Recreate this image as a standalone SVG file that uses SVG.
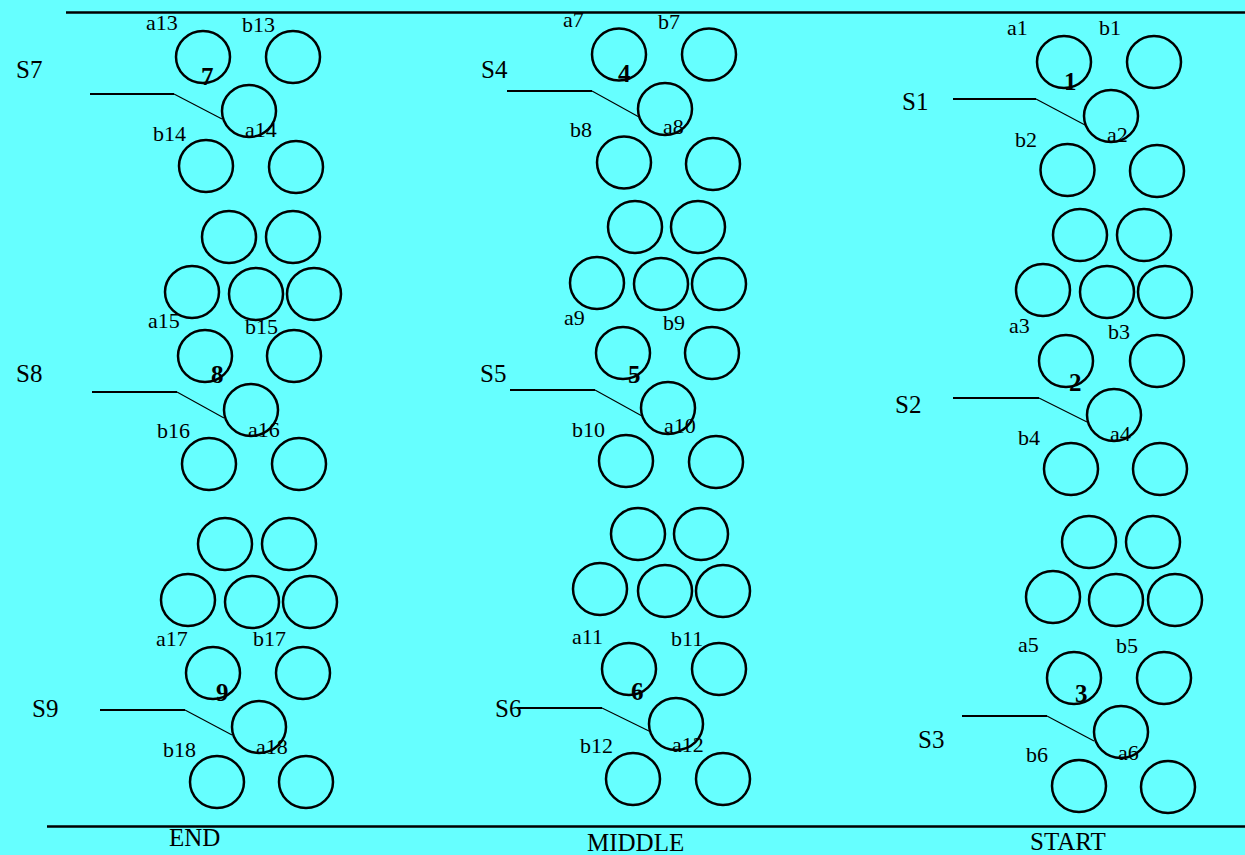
<svg xmlns="http://www.w3.org/2000/svg" width="1245" height="855" viewBox="0 0 1245 855">
<style>
.c{fill:none;stroke:#000;stroke-width:2.5}
.rail{stroke:#000;stroke-width:2.5}
.wh{stroke:#000;stroke-width:2.2;fill:none}
.wd{stroke:#000;stroke-width:1.1;fill:none}
.lb{font-family:"Liberation Serif","Times New Roman",serif;font-size:22px;fill:#000}
.sl{font-family:"Liberation Serif","Times New Roman",serif;font-size:25px;fill:#000}
.nm{font-family:"Liberation Serif","Times New Roman",serif;font-size:25px;font-weight:bold;fill:#000}
</style>
<rect x="0" y="0" width="1245" height="855" fill="#66FFFF"/>
<g id="rails">
<line class="rail" x1="66" y1="12.5" x2="1245" y2="12.5"/>
<line class="rail" x1="47" y1="826.5" x2="1245" y2="826.5"/>
</g>
<g id="connectors">
<polyline class="wh" points="90,94 174,94"/><line class="wd" x1="174" y1="94" x2="222" y2="119"/>
<polyline class="wh" points="92,392 177,392"/><line class="wd" x1="177" y1="392" x2="224" y2="418"/>
<polyline class="wh" points="100,710 185,710"/><line class="wd" x1="185" y1="710" x2="232" y2="735"/>
<polyline class="wh" points="507,91 592,91"/><line class="wd" x1="592" y1="91" x2="639" y2="117"/>
<polyline class="wh" points="510,390 595,390"/><line class="wd" x1="595" y1="390" x2="642" y2="416"/>
<polyline class="wh" points="517,708 602,708"/><line class="wd" x1="602" y1="708" x2="651" y2="732"/>
<polyline class="wh" points="953,99 1036,99"/><line class="wd" x1="1036" y1="99" x2="1085" y2="125"/>
<polyline class="wh" points="953,398 1039,398"/><line class="wd" x1="1039" y1="398" x2="1087" y2="422"/>
<polyline class="wh" points="962,716 1047,716"/><line class="wd" x1="1047" y1="716" x2="1094" y2="741"/>
</g>
<g id="col-end">
<g id="station-7">
<ellipse class="c" cx="203" cy="57" rx="27" ry="26"/><ellipse class="c" cx="293" cy="57" rx="27" ry="26"/>
<ellipse class="c" cx="249" cy="111" rx="27" ry="26"/>
<ellipse class="c" cx="206" cy="166" rx="27" ry="26"/><ellipse class="c" cx="296" cy="167" rx="27" ry="26"/>
<text class="lb" x="146" y="30">a13</text><text class="lb" x="242" y="32">b13</text>
<text class="sl" x="16" y="78">S7</text><text class="nm" x="201" y="85">7</text>
<text class="lb" x="153" y="141">b14</text><text class="lb" x="245" y="137">a14</text>
</g>
<g id="pack-end-1">
<ellipse class="c" cx="229" cy="237" rx="27" ry="26"/><ellipse class="c" cx="293" cy="237" rx="27" ry="26"/>
<ellipse class="c" cx="192" cy="292" rx="27" ry="26"/><ellipse class="c" cx="256" cy="294" rx="27" ry="26"/><ellipse class="c" cx="314" cy="294" rx="27" ry="26"/>
</g>
<g id="station-8">
<ellipse class="c" cx="205" cy="356" rx="27" ry="26"/><ellipse class="c" cx="294" cy="356" rx="27" ry="26"/>
<ellipse class="c" cx="251" cy="410" rx="27" ry="26"/>
<ellipse class="c" cx="209" cy="464" rx="27" ry="26"/><ellipse class="c" cx="299" cy="464" rx="27" ry="26"/>
<text class="lb" x="148" y="328">a15</text><text class="lb" x="245" y="334">b15</text>
<text class="sl" x="16" y="382">S8</text><text class="nm" x="211" y="383">8</text>
<text class="lb" x="157" y="438">b16</text><text class="lb" x="248" y="437">a16</text>
</g>
<g id="pack-end-2">
<ellipse class="c" cx="225" cy="544" rx="27" ry="26"/><ellipse class="c" cx="289" cy="544" rx="27" ry="26"/>
<ellipse class="c" cx="188" cy="600" rx="27" ry="26"/><ellipse class="c" cx="252" cy="602" rx="27" ry="26"/><ellipse class="c" cx="310" cy="602" rx="27" ry="26"/>
</g>
<g id="station-9">
<ellipse class="c" cx="213" cy="673" rx="27" ry="26"/><ellipse class="c" cx="303" cy="673" rx="27" ry="26"/>
<ellipse class="c" cx="259" cy="727" rx="27" ry="26"/>
<ellipse class="c" cx="217" cy="782" rx="27" ry="26"/><ellipse class="c" cx="306" cy="782" rx="27" ry="26"/>
<text class="lb" x="156" y="646">a17</text><text class="lb" x="253" y="646">b17</text>
<text class="sl" x="32" y="717">S9</text><text class="nm" x="216" y="701">9</text>
<text class="lb" x="163" y="757">b18</text><text class="lb" x="256" y="754">a18</text>
</g>
<text class="sl" x="169" y="846">END</text>
</g>
<g id="col-middle">
<g id="station-4">
<ellipse class="c" cx="619" cy="54.5" rx="27" ry="26"/><ellipse class="c" cx="709" cy="54.5" rx="27" ry="26"/>
<ellipse class="c" cx="665" cy="109" rx="27" ry="26"/>
<ellipse class="c" cx="624" cy="162.5" rx="27" ry="26"/><ellipse class="c" cx="713" cy="164" rx="27" ry="26"/>
<text class="lb" x="563" y="27">a7</text><text class="lb" x="658" y="29">b7</text>
<text class="sl" x="481" y="78">S4</text><text class="nm" x="618" y="82">4</text>
<text class="lb" x="570" y="137">b8</text><text class="lb" x="663" y="134">a8</text>
</g>
<g id="pack-mid-1">
<ellipse class="c" cx="635" cy="227" rx="27" ry="26"/><ellipse class="c" cx="698" cy="227" rx="27" ry="26"/>
<ellipse class="c" cx="597" cy="283" rx="27" ry="26"/><ellipse class="c" cx="661" cy="284" rx="27" ry="26"/><ellipse class="c" cx="719" cy="284" rx="27" ry="26"/>
</g>
<g id="station-5">
<ellipse class="c" cx="623" cy="353" rx="27" ry="26"/><ellipse class="c" cx="712" cy="353" rx="27" ry="26"/>
<ellipse class="c" cx="668" cy="408" rx="27" ry="26"/>
<ellipse class="c" cx="626" cy="461" rx="27" ry="26"/><ellipse class="c" cx="716" cy="462" rx="27" ry="26"/>
<text class="lb" x="564" y="325">a9</text><text class="lb" x="663" y="330">b9</text>
<text class="sl" x="480" y="382">S5</text><text class="nm" x="628" y="383">5</text>
<text class="lb" x="572" y="437">b10</text><text class="lb" x="664" y="433">a10</text>
</g>
<g id="pack-mid-2">
<ellipse class="c" cx="638" cy="534" rx="27" ry="26"/><ellipse class="c" cx="701" cy="534" rx="27" ry="26"/>
<ellipse class="c" cx="600" cy="589" rx="27" ry="26"/><ellipse class="c" cx="665" cy="591" rx="27" ry="26"/><ellipse class="c" cx="723" cy="591" rx="27" ry="26"/>
</g>
<g id="station-6">
<ellipse class="c" cx="629" cy="669" rx="27" ry="26"/><ellipse class="c" cx="719" cy="669" rx="27" ry="26"/>
<ellipse class="c" cx="676" cy="724" rx="27" ry="26"/>
<ellipse class="c" cx="633" cy="779" rx="27" ry="26"/><ellipse class="c" cx="723" cy="779" rx="27" ry="26"/>
<text class="lb" x="572" y="644">a11</text><text class="lb" x="671" y="646">b11</text>
<text class="sl" x="495" y="717">S6</text><text class="nm" x="631" y="700">6</text>
<text class="lb" x="580" y="753">b12</text><text class="lb" x="672" y="752">a12</text>
</g>
<text class="sl" x="587" y="851">MIDDLE</text>
</g>
<g id="col-start">
<g id="station-1">
<ellipse class="c" cx="1064" cy="62" rx="27" ry="26"/><ellipse class="c" cx="1154" cy="62" rx="27" ry="26"/>
<ellipse class="c" cx="1111" cy="116" rx="27" ry="26"/>
<ellipse class="c" cx="1067.5" cy="170" rx="27" ry="26"/><ellipse class="c" cx="1157" cy="171" rx="27" ry="26"/>
<text class="lb" x="1007" y="35">a1</text><text class="lb" x="1099" y="35">b1</text>
<text class="sl" x="902" y="110">S1</text><text class="nm" x="1064" y="90">1</text>
<text class="lb" x="1015" y="147">b2</text><text class="lb" x="1107" y="142">a2</text>
</g>
<g id="pack-start-1">
<ellipse class="c" cx="1080" cy="235" rx="27" ry="26"/><ellipse class="c" cx="1144" cy="235" rx="27" ry="26"/>
<ellipse class="c" cx="1043" cy="290" rx="27" ry="26"/><ellipse class="c" cx="1107" cy="292" rx="27" ry="26"/><ellipse class="c" cx="1165" cy="292" rx="27" ry="26"/>
</g>
<g id="station-2">
<ellipse class="c" cx="1066" cy="361" rx="27" ry="26"/><ellipse class="c" cx="1157" cy="361" rx="27" ry="26"/>
<ellipse class="c" cx="1114" cy="415" rx="27" ry="26"/>
<ellipse class="c" cx="1071" cy="469" rx="27" ry="26"/><ellipse class="c" cx="1160" cy="469" rx="27" ry="26"/>
<text class="lb" x="1009" y="333">a3</text><text class="lb" x="1108" y="339">b3</text>
<text class="sl" x="895" y="413">S2</text><text class="nm" x="1069" y="391">2</text>
<text class="lb" x="1018" y="445">b4</text><text class="lb" x="1110" y="441">a4</text>
</g>
<g id="pack-start-2">
<ellipse class="c" cx="1089" cy="542" rx="27" ry="26"/><ellipse class="c" cx="1153" cy="542" rx="27" ry="26"/>
<ellipse class="c" cx="1053" cy="597" rx="27" ry="26"/><ellipse class="c" cx="1116" cy="600" rx="27" ry="26"/><ellipse class="c" cx="1175" cy="600" rx="27" ry="26"/>
</g>
<g id="station-3">
<ellipse class="c" cx="1074" cy="678" rx="27" ry="26"/><ellipse class="c" cx="1164" cy="678" rx="27" ry="26"/>
<ellipse class="c" cx="1121" cy="732" rx="27" ry="26"/>
<ellipse class="c" cx="1079" cy="786" rx="27" ry="26"/><ellipse class="c" cx="1168" cy="787" rx="27" ry="26"/>
<text class="lb" x="1018" y="652">a5</text><text class="lb" x="1116" y="653">b5</text>
<text class="sl" x="918" y="748">S3</text><text class="nm" x="1075" y="702">3</text>
<text class="lb" x="1026" y="762">b6</text><text class="lb" x="1118" y="760">a6</text>
</g>
<text class="sl" x="1030" y="850">START</text>
</g>
</svg>
